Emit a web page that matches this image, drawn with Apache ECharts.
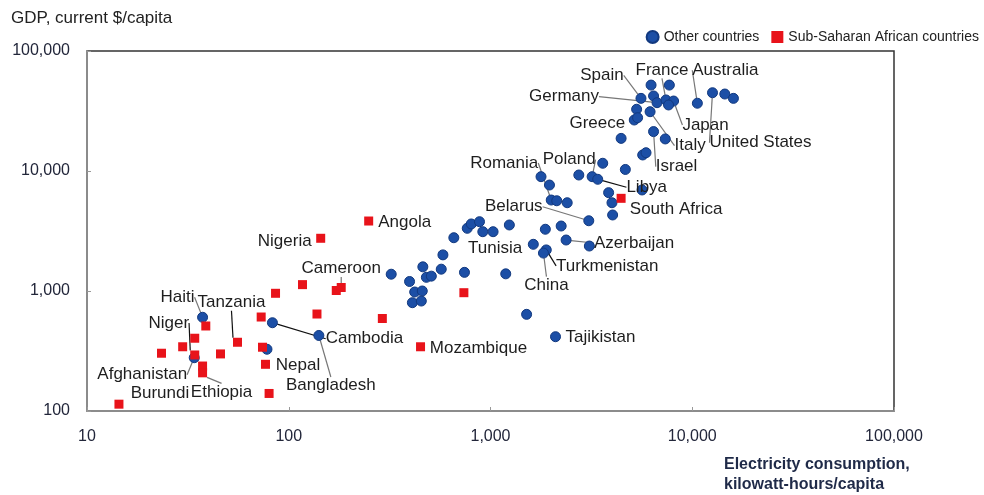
<!DOCTYPE html>
<html>
<head>
<meta charset="utf-8">
<script src="https://cdn.jsdelivr.net/npm/echarts@6/dist/echarts.min.js"></script>
<style>
  html, body { margin: 0; padding: 0; background: #fff; }
  #chart { width: 984px; height: 495px; }
</style>
</head>
<body>
<div id="chart"></div>
<script>
// Electricity use (kWh per person) against GDP per person, log-log.
const xTicks = [10, 100, 1000, 10000, 100000];
const yTicks = [100, 1000, 10000, 100000];

// Other countries
const otherNames = [
  '', '', 'Spain', '', 'Germany', 'France', 'Japan', '', '', 'Italy',
  'Greece', '', 'Australia', 'United States', '', '', '', 'Israel', '', '',
  '', '', '', '', '', '', 'Poland', 'Libya', '', '',
  '', '', 'Romania', '', '', 'Belarus', '', '', '', '',
  'Tunisia', '', '', '', 'Azerbaijan', '', '', '', 'Turkmenistan', 'China',
  '', '', '', '', '', '', '', '', '', '',
  '', '', '', '', 'Tajikistan', 'Bangladesh', 'Cambodia', 'Haiti', 'Nepal', 'Afghanistan'
];
const otherElec = [
  6250, 7700, 5570, 6430, 6690, 7410, 8080, 7630, 5300, 6180,
  5160, 5360, 10600, 12600, 14500, 16000, 4440, 6430, 7350, 5680,
  5900, 3600, 4660, 1780, 1960, 2740, 3190, 3400, 3850, 4000,
  4030, 5640, 2000, 2130, 2400, 3070, 767, 803, 882, 916,
  1030, 1240, 1870, 2240, 2370, 3090, 658, 1630, 1890, 1830,
  581, 570, 743, 1190, 1510, 322, 462, 397, 481, 509,
  421, 459, 410, 454, 2100, 141, 83, 37.4, 78, 34
];
const otherGdp = [
  52000, 52000, 40300, 42200, 37100, 39100, 38300, 35500, 32700, 31200,
  26600, 27800, 36700, 44900, 43800, 40300, 18700, 21300, 18500, 13600,
  14200, 11600, 10300, 8970, 7640, 9260, 8970, 8530, 6600, 5440,
  4300, 6950, 5730, 5650, 5440, 3850, 3330, 3620, 3780, 3120,
  3120, 3550, 3270, 3480, 2660, 2370, 2780, 2450, 2200, 2070,
  2000, 1520, 1430, 1390, 639, 1380, 1590, 1200, 1300, 1330,
  981, 1000, 799, 825, 416, 426, 544, 604, 327, 278
];

// Sub-Saharan African countries
const ssaNames = [
  'Angola', 'Nigeria', '', 'Cameroon', '', '', '', '', '', '',
  'South Africa', 'Mozambique', '', '', 'Tanzania', '', '', '', '', 'Niger',
  '', 'Ethiopia', '', '', 'Burundi'
];
const ssaElec = [
  249, 144, 172, 182, 117, 86, 138, 291, 73, 738,
  4440, 450, 38.8, 34.2, 55.7, 29.8, 23.4, 45.9, 74.1, 34.2,
  37.4, 37.4, 76.7, 79.9, 14.4
];
const ssaGdp = [
  3830, 2750, 1010, 1070, 1130, 957, 643, 590, 607, 968,
  5920, 343, 511, 404, 374, 343, 303, 299, 340, 293,
  237, 208, 245, 140, 114
];

// Label placement: offset of the label centre from its marker (px) and leader line colour.
const labelPlacement = {
  'Haiti': [-25, -20, '#777'],
  'Tanzania': [-6, -40, '#111'],
  'Niger': [-26, -32, '#111'],
  'Afghanistan': [-52, 17, '#777'],
  'Burundi': [41, -11, null],
  'Ethiopia': [19, 19, '#777'],
  'Nepal': [31, 16, null],
  'Bangladesh': [12, 50, '#777'],
  'Cambodia': [92, 16, '#111'],
  'Nigeria': [-36, 3, null],
  'Angola': [36, 1, null],
  'Cameroon': [0, -19, '#777'],
  'Mozambique': [58, 2, null],
  'Tajikistan': [45, 1, null],
  'China': [3, 32, '#777'],
  'Turkmenistan': [61, 16, '#111'],
  'Tunisia': [2, 17, null],
  'Azerbaijan': [68, 3, '#777'],
  'Belarus': [-75, -14, '#777'],
  'Romania': [-47, -37, '#777'],
  'Poland': [-23, -17, '#777'],
  'Libya': [49, 8, '#111'],
  'South Africa': [55, 11, null],
  'Israel': [23, 35, '#777'],
  'Italy': [40, 34, '#777'],
  'Greece': [-37, 3, null],
  'Japan': [32, 24, '#777'],
  'United States': [48, 50, '#777'],
  'Australia': [28, -33, '#777'],
  'France': [-4, -30, '#777'],
  'Spain': [-39, -23, '#777'],
  'Germany': [-93, -6, '#777']
};

const FONT = 'Arial, "Liberation Sans", sans-serif';
const fmt = v => Number(v).toLocaleString('en-US');

function buildItems(names, xs, ys) {
  return xs.map((x, i) => {
    const name = names[i] || '';
    const place = labelPlacement[name];
    const item = { value: [x, ys[i]], name: name };
    if (place) {
      item.label = { show: true };
      item.labelLine = place[2]
        ? { show: true, lineStyle: { color: place[2], width: 1.2 } }
        : { show: false };
    }
    return item;
  });
}

function layoutFor(names) {
  return function (params) {
    const place = labelPlacement[names[params.dataIndex]];
    if (!place) return {};
    return { dx: place[0], dy: place[1] };
  };
}

const labelStyle = {
  show: false,
  position: 'inside',
  formatter: '{b}',
  fontFamily: FONT,
  fontSize: 17,
  color: '#1e1e1e',
  textBorderWidth: 0
};

const chart = echarts.init(document.getElementById('chart'), null, { renderer: 'canvas' });

chart.setOption({
  animation: false,
  backgroundColor: '#fff',
  textStyle: { fontFamily: FONT },
  title: [
    {
      text: 'GDP, current $/capita',
      left: 6, top: 5,
      textStyle: { fontFamily: FONT, fontSize: 17, fontWeight: 'normal', color: '#222' }
    },
    {
      text: 'Electricity consumption,\nkilowatt-hours/capita',
      left: 719, top: 450,
      textStyle: { fontFamily: FONT, fontSize: 16, fontWeight: 'bold', color: '#1f2a48', lineHeight: 20 }
    }
  ],
  legend: {
    right: 0, top: 25,
    itemWidth: 12, itemHeight: 12, itemGap: 12,
    textStyle: { fontFamily: FONT, fontSize: 14, color: '#222' },
    data: [
      { name: 'Other countries', icon: 'circle' },
      { name: 'Sub-Saharan African countries', icon: 'rect' }
    ]
  },
  grid: {
    left: 87, right: 90, top: 51, bottom: 84,
    show: true, borderColor: '#333', borderWidth: 1.5, backgroundColor: 'transparent'
  },
  xAxis: {
    type: 'log', logBase: 10,
    min: xTicks[0], max: xTicks[xTicks.length - 1],
    axisLine: { lineStyle: { color: '#999', width: 1.5 } },
    axisTick: { inside: true, length: 4, lineStyle: { color: '#999' } },
    minorTick: { show: false },
    splitLine: { show: false },
    axisLabel: {
      margin: 18, fontFamily: FONT, fontSize: 16, color: '#22263a',
      formatter: fmt
    }
  },
  yAxis: {
    type: 'log', logBase: 10,
    min: yTicks[0], max: yTicks[yTicks.length - 1],
    axisLine: { lineStyle: { color: '#999', width: 1.5 } },
    axisTick: { inside: true, length: 4, lineStyle: { color: '#999' } },
    splitLine: { show: false },
    axisLabel: {
      margin: 17, fontFamily: FONT, fontSize: 16, color: '#22263a',
      formatter: fmt
    }
  },
  series: [
    {
      name: 'Other countries',
      type: 'scatter',
      symbol: 'circle',
      symbolSize: 10,
      itemStyle: { color: '#1c4fa6', borderColor: '#12397f', borderWidth: 1, opacity: 1 },
      label: labelStyle,
      labelLayout: layoutFor(otherNames),
      data: buildItems(otherNames, otherElec, otherGdp)
    },
    {
      name: 'Sub-Saharan African countries',
      type: 'scatter',
      symbol: 'rect',
      symbolSize: 9,
      itemStyle: { color: '#e8131a', opacity: 1 },
      label: labelStyle,
      labelLayout: layoutFor(ssaNames),
      data: buildItems(ssaNames, ssaElec, ssaGdp)
    }
  ]
});
</script>
</body>
</html>
